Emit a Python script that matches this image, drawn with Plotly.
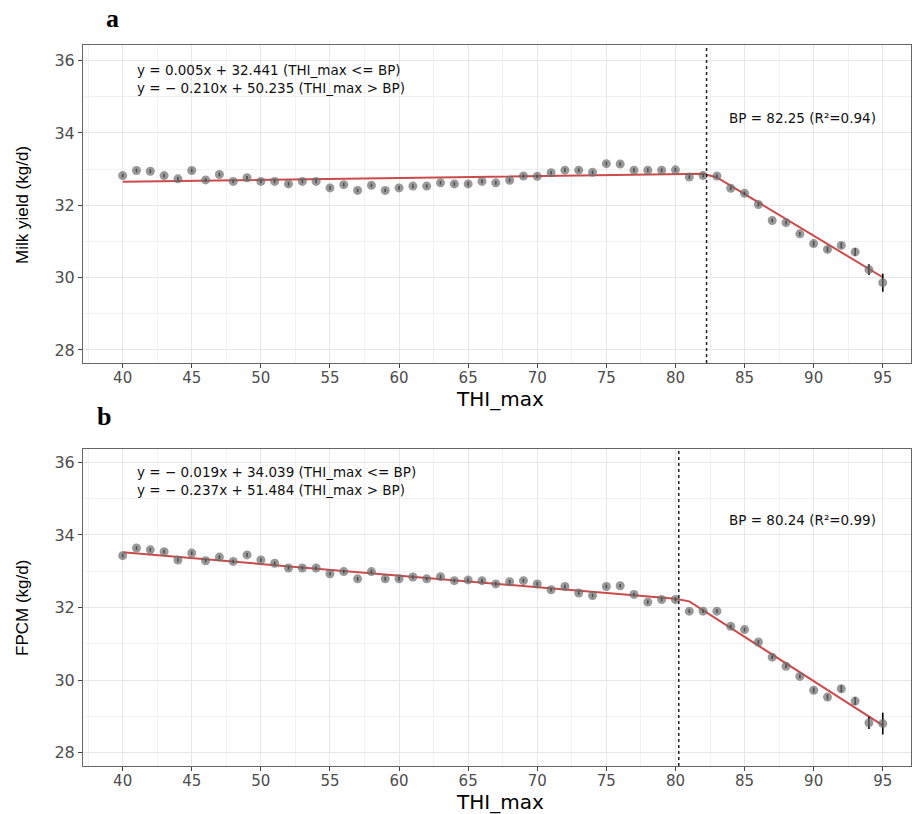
import plotly.graph_objects as go

W, H = 913, 814

# ---------------- data ----------------
thi = list(range(40, 96))

milk = [32.82, 32.96, 32.94, 32.82, 32.73, 32.96, 32.70, 32.85, 32.66, 32.76,
        32.66, 32.66, 32.59, 32.66, 32.66, 32.48, 32.57, 32.41, 32.55, 32.41,
        32.48, 32.53, 32.53, 32.62, 32.59, 32.59, 32.66, 32.62, 32.69, 32.81,
        32.80, 32.90, 32.97, 32.97, 32.91, 33.15, 33.14, 32.97, 32.97, 32.97,
        32.98, 32.78, 32.82, 32.81, 32.47, 32.33, 32.02, 31.58, 31.52, 31.21,
        30.94, 30.78, 30.89, 30.71, 30.22, 29.86]
milk_err = [0.05] * 50 + [0.07, 0.07, 0.08, 0.11, 0.15, 0.25]

fpcm = [33.43, 33.64, 33.59, 33.54, 33.31, 33.50, 33.29, 33.39, 33.27, 33.45,
        33.31, 33.22, 33.09, 33.09, 33.09, 32.93, 32.99, 32.79, 32.99, 32.79,
        32.79, 32.84, 32.79, 32.85, 32.74, 32.76, 32.74, 32.65, 32.71, 32.74,
        32.65, 32.49, 32.58, 32.40, 32.33, 32.58, 32.60, 32.36, 32.15, 32.22,
        32.22, 31.90, 31.90, 31.90, 31.48, 31.39, 31.05, 30.63, 30.38, 30.10,
        29.72, 29.53, 29.76, 29.42, 28.82, 28.80]
fpcm_err = [0.05] * 50 + [0.07, 0.07, 0.10, 0.11, 0.17, 0.30]

fit_x_a = [40, 82, 83, 95]
fit_y_a = [32.65, 32.87, 32.77, 30.01]
fit_x_b = [40, 80, 81, 95]
fit_y_b = [33.52, 32.24, 32.17, 28.75]

bp_a = 82.25
bp_b = 80.24

eq_a = ["y = 0.005x + 32.441 (THI_max <= BP)", "y = \u2212 0.210x + 50.235 (THI_max > BP)"]
eq_b = ["y = \u2212 0.019x + 34.039 (THI_max <= BP)", "y = \u2212 0.237x + 51.484 (THI_max > BP)"]
bp_text_a = "BP = 82.25 (R\u00b2=0.94)"
bp_text_b = "BP = 80.24 (R\u00b2=0.99)"

x_ticks = [40, 45, 50, 55, 60, 65, 70, 75, 80, 85, 90, 95]
y_ticks = [28, 30, 32, 34, 36]


# ---------------- helpers ----------------
def px(x):
    return x / W


def py(y):
    return 1 - y / H


LINE_RED = "#cc4a4a"
MARK = "rgba(110,110,110,0.7)"
TXT = "DejaVu Sans"

fig = go.Figure()

for xa, ya, yv, err, fx, fy in [("x", "y", milk, milk_err, fit_x_a, fit_y_a),
                                ("x2", "y2", fpcm, fpcm_err, fit_x_b, fit_y_b)]:
    fig.add_trace(go.Scatter(x=fx, y=fy, mode="lines", xaxis=xa, yaxis=ya,
                             line=dict(color=LINE_RED, width=2), showlegend=False,
                             hoverinfo="skip"))
    fig.add_trace(go.Scatter(x=thi, y=yv, mode="markers", xaxis=xa, yaxis=ya,
                             marker=dict(size=9, color=MARK, line=dict(width=0)),
                             error_y=dict(type="data", array=err, color="black",
                                          thickness=1.6, width=0),
                             showlegend=False))

# axes
x_left, x_right = 83, 911
xrange = [37.13, 37.13 + (x_right - x_left) / 13.82]
common_x = dict(range=xrange, tickvals=x_ticks, ticks="outside", ticklen=4,
                tickcolor="#444", tickfont=dict(family=TXT, size=15, color="#4d4d4d"),
                ticklabelstandoff=-3,
                showgrid=True, gridcolor="#e6e6e6", gridwidth=1,
                minor=dict(dtick=2.5, tick0=40, showgrid=True, gridcolor="#f1f1f1",
                           gridwidth=0.8, ticks=""),
                showline=True, linecolor="#666", linewidth=1, mirror=True,
                zeroline=False, automargin=False, domain=[px(x_left), px(x_right)])
common_y = dict(tickvals=y_ticks, ticks="outside", ticklen=4, tickcolor="#444",
                tickfont=dict(family=TXT, size=16, color="#4d4d4d"),
                showgrid=True, gridcolor="#e6e6e6", gridwidth=1,
                minor=dict(dtick=1, tick0=28, showgrid=True, gridcolor="#f1f1f1",
                           gridwidth=0.8, ticks=""),
                showline=True, linecolor="#666", linewidth=1, mirror=True,
                zeroline=False, automargin=False)

fig.update_layout(
    width=W, height=H,
    margin=dict(l=0, r=0, t=0, b=0, autoexpand=False),
    paper_bgcolor="white", plot_bgcolor="white",
    xaxis=dict(common_x, anchor="y"),
    yaxis=dict(common_y, range=[27.64, 36.43], domain=[py(363), py(45)], anchor="x"),
    xaxis2=dict(common_x, anchor="y2"),
    yaxis2=dict(common_y, range=[27.63, 36.37], domain=[py(766), py(449)], anchor="x2"),
)

# breakpoint lines
for xr, yr, bp in [("x", "y domain", bp_a), ("x2", "y2 domain", bp_b)]:
    fig.add_shape(type="line", xref=xr, yref=yr, x0=bp, x1=bp, y0=0, y1=1,
                  line=dict(color="#222", width=1.5, dash="dot"))

ann = []
# equations (two lines in one text block)
for lines, yy in [(eq_a, 79), (eq_b, 481)]:
    ann.append(dict(text="<br>".join(lines), x=px(135), y=py(yy), xref="paper",
                    yref="paper", xanchor="left", yanchor="middle", align="left",
                    showarrow=False, font=dict(family=TXT, size=13.5, color="#111")))
# BP labels
for t, yy in [(bp_text_a, 118), (bp_text_b, 520)]:
    ann.append(dict(text=t, x=px(727), y=py(yy), xref="paper", yref="paper",
                    xanchor="left", yanchor="middle", showarrow=False,
                    font=dict(family=TXT, size=13.5, color="#111")))
# x titles
for yy in [399, 802]:
    ann.append(dict(text="THI_max", x=px(500), y=py(yy), xref="paper", yref="paper",
                    xanchor="center", yanchor="middle", showarrow=False,
                    font=dict(family=TXT, size=20, color="black")))
# y titles
for t, yy in [("Milk yield (kg/d)", 205), ("FPCM (kg/d)", 608)]:
    ann.append(dict(text=t, x=px(22), y=py(yy), xref="paper", yref="paper",
                    xanchor="center", yanchor="middle", showarrow=False, textangle=-90,
                    font=dict(family="Liberation Sans", size=17, color="black")))
# panel letters
for t, xx, yy in [("a", 112, 18), ("b", 104, 416)]:
    ann.append(dict(text="<b>%s</b>" % t, x=px(xx), y=py(yy), xref="paper", yref="paper",
                    xanchor="center", yanchor="middle", showarrow=False,
                    font=dict(family="Liberation Serif", size=26, color="black")))

fig.update_layout(annotations=ann)

fig.write_html(
    "out.html",
    config={"displayModeBar": False},
    post_script="document.body.style.margin='0';document.body.style.padding='0';"
                "document.body.style.overflow='hidden';"
                "document.documentElement.style.overflow='hidden';",
)
